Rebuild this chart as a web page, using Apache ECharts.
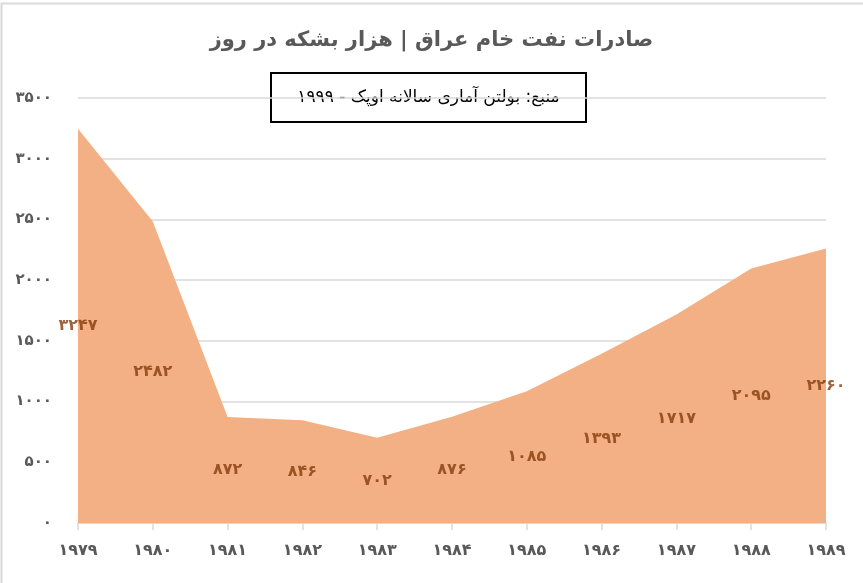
<!DOCTYPE html>
<html>
<head>
<meta charset="utf-8">
<script src="https://cdn.jsdelivr.net/npm/echarts@6/dist/echarts.min.js"></script>
<style>
html,body{margin:0;padding:0;background:#fff;}
#chart{width:863px;height:583px;}
</style>
</head>
<body>
<div id="chart"></div>
<script>
const years = ['۱۹۷۹','۱۹۸۰','۱۹۸۱','۱۹۸۲','۱۹۸۳','۱۹۸۴','۱۹۸۵','۱۹۸۶','۱۹۸۷','۱۹۸۸','۱۹۸۹'];
const exports = [3247, 2482, 872, 846, 702, 876, 1085, 1393, 1717, 2095, 2260];
const titleText = 'صادرات نفت خام عراق | هزار بشکه در روز';
const sourceText = 'منبع: بولتن آماری سالانه اوپک - ۱۹۹۹';

const faDigits = '۰۱۲۳۴۵۶۷۸۹';
function toFa(n){ return String(n).replace(/[0-9]/g, d => faDigits[+d]); }

const FONT = "'DejaVu Sans', sans-serif";
const chart = echarts.init(document.getElementById('chart'));
chart.setOption({
  animation: false,
  backgroundColor: '#fff',
  title: {
    text: titleText,
    left: 'center',
    top: 25,
    textStyle: {fontFamily: FONT, fontSize: 21, fontWeight: 'bold', color: '#595959'}
  },
  graphic: [
    {type: 'rect', shape: {x: 1.5, y: 3.5, width: 900, height: 700}, style: {fill: 'none', stroke: '#d9d9d9', lineWidth: 2}, silent: true, z: 0},
    {type: 'group', left: 270, top: 72, z: 100, children: [
      {type: 'rect', shape: {x: 0, y: 0, width: 315, height: 49}, style: {fill: '#fff', stroke: '#000', lineWidth: 2}},
      {type: 'text', x: 157.5, y: 24.5, style: {text: sourceText, fontFamily: FONT, fontSize: 17, fill: '#000', align: 'center', verticalAlign: 'middle'}}
    ]}
  ],
  grid: {left: 78, right: 37, top: 98, bottom: 60},
  xAxis: {
    type: 'category',
    data: years,
    boundaryGap: false,
    axisLine: {show: true, lineStyle: {color: '#d9d9d9', width: 1.5}},
    axisTick: {show: true, length: 7, lineStyle: {color: '#d9d9d9', width: 1.5}},
    axisLabel: {margin: 20, fontFamily: FONT, fontSize: 16, fontWeight: 'bold', color: '#595959'},
    splitLine: {show: false}
  },
  yAxis: {
    type: 'value',
    min: 0, max: 3500, interval: 500,
    axisLine: {show: false},
    axisTick: {show: false},
    axisLabel: {margin: 26, fontFamily: FONT, fontSize: 15, fontWeight: 'bold', color: '#595959', formatter: v => toFa(v)},
    splitLine: {lineStyle: {color: '#d9d9d9', width: 1.5}}
  },
  series: [
    {
      type: 'line',
      data: exports,
      symbol: 'none',
      lineStyle: {width: 0},
      areaStyle: {color: '#F2B084', opacity: 1},
      z: 2
    },
    {
      type: 'scatter',
      data: exports.map((v, i) => [i, v / 2, v]),
      symbolSize: 0,
      z: 5,
      label: {
        show: true,
        position: 'inside',
        formatter: p => toFa(p.data[2]),
        fontFamily: FONT, fontSize: 16, fontWeight: 'bold', color: '#843C0C'
      }
    }
  ]
});
</script>
</body>
</html>
